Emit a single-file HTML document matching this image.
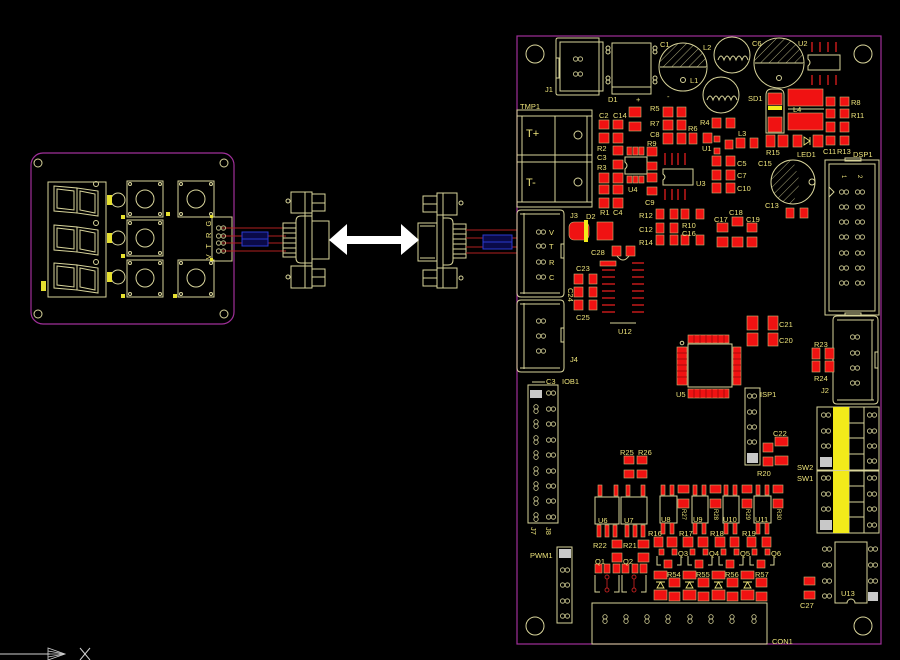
<!DOCTYPE html>
<html><head><meta charset="utf-8"><style>
html,body{margin:0;padding:0;background:#000;}
svg{display:block;}
.o{fill:none;stroke:#d8d49a;stroke-width:1;}
.r{fill:#f01212;stroke:#cdb878;stroke-width:0.6;}
.dr{stroke:#b81818;stroke-width:1.6;}
.t{font-family:"Liberation Sans",sans-serif;font-size:7.5px;fill:#ece27a;}
.p{fill:none;stroke:#d8d49a;stroke-width:0.8;}
</style></head><body>
<svg width="900" height="660" viewBox="0 0 900 660" xmlns="http://www.w3.org/2000/svg">
<defs>
<g id="pp"><circle class="p" cx="-2.4" cy="0" r="2.2"/><circle class="p" cx="2.4" cy="0" r="2.2"/></g>
<g id="pv"><circle class="p" cx="0" cy="-2.2" r="2.2"/><circle class="p" cx="0" cy="2.2" r="2.2"/></g>
<pattern id="hatch" patternUnits="userSpaceOnUse" width="6" height="6" patternTransform="rotate(45)"><line x1="0" y1="0" x2="0" y2="6" stroke="#d8d49a" stroke-width="0.8"/></pattern>
</defs>
<rect width="900" height="660" fill="#000"/>

<!-- ===== LEFT BOARD ===== -->
<rect x="31" y="153" width="203" height="171" rx="12" fill="none" stroke="#a0309a" stroke-width="1.2"/>
<circle class="o" cx="38" cy="163" r="4"/><circle class="o" cx="224" cy="163" r="4"/>
<circle class="o" cx="38" cy="314" r="4"/><circle class="o" cx="224" cy="314" r="4"/>
<rect class="o" x="48" y="182" width="58" height="115"/>
<g class="o">
<polygon points="54,186 77,188 77,213 54,211"/><polygon points="57,189 74,191 74,210 57,208"/>
<polygon points="77,188 98,191 98,216 77,213"/><polygon points="80,191 95,194 95,213 80,210"/>
<polygon points="54,225 77,227 77,252 54,250"/><polygon points="57,228 74,230 74,249 57,247"/>
<polygon points="77,227 98,230 98,255 77,252"/><polygon points="80,230 95,233 95,252 80,249"/>
<polygon points="54,263 77,265 77,290 54,288"/><polygon points="57,266 74,268 74,287 57,285"/>
<polygon points="77,265 98,268 98,293 77,290"/><polygon points="80,268 95,271 95,290 80,287"/>
<circle cx="96" cy="184" r="2.5"/><circle cx="96" cy="223" r="2.5"/><circle cx="96" cy="262" r="2.5"/>
<circle cx="118" cy="200" r="7"/><circle cx="118" cy="238" r="7"/><circle cx="118" cy="277" r="7"/>
<rect x="127" y="181" width="36" height="36"/><circle cx="145" cy="199" r="9"/>
<rect x="127" y="220" width="36" height="36"/><circle cx="145" cy="238" r="9"/>
<rect x="127" y="260" width="36" height="37"/><circle cx="145" cy="278" r="9"/>
<rect x="178" y="181" width="36" height="36"/><circle cx="196" cy="199" r="9"/>
<rect x="178" y="260" width="36" height="37"/><circle cx="196" cy="278" r="9"/>
<circle cx="130" cy="184" r="1.5"/><circle cx="160" cy="184" r="1.5"/><circle cx="130" cy="214" r="1.5"/><circle cx="160" cy="214" r="1.5"/>
<circle cx="130" cy="223" r="1.5"/><circle cx="160" cy="223" r="1.5"/><circle cx="130" cy="253" r="1.5"/><circle cx="160" cy="253" r="1.5"/>
<circle cx="130" cy="263" r="1.5"/><circle cx="160" cy="263" r="1.5"/><circle cx="130" cy="294" r="1.5"/><circle cx="160" cy="294" r="1.5"/>
<circle cx="181" cy="184" r="1.5"/><circle cx="211" cy="184" r="1.5"/><circle cx="181" cy="214" r="1.5"/><circle cx="211" cy="214" r="1.5"/>
<circle cx="181" cy="263" r="1.5"/><circle cx="211" cy="263" r="1.5"/><circle cx="181" cy="294" r="1.5"/><circle cx="211" cy="294" r="1.5"/>
<rect x="212" y="217" width="20" height="44"/>
</g>
<g fill="#e6e030">
<rect x="41" y="281" width="5" height="10"/>
<rect x="107" y="195" width="5" height="10"/><rect x="107" y="233" width="5" height="10"/><rect x="107" y="272" width="5" height="10"/>
<rect x="121" y="215" width="4" height="4"/><rect x="121" y="254" width="4" height="4"/><rect x="121" y="294" width="4" height="4"/>
<rect x="166" y="212" width="4" height="4"/><rect x="173" y="294" width="4" height="4"/>
<rect x="210" y="215" width="3" height="3"/><rect x="210" y="258" width="3" height="3"/>
</g>
<text class="t" transform="rotate(-90 209 239)" x="209" y="241" text-anchor="middle" letter-spacing="2">V T R G</text>
<g stroke="#b02020" stroke-width="1">
<line x1="222" y1="228" x2="286" y2="228"/><line x1="222" y1="236" x2="286" y2="236"/>
<line x1="222" y1="243" x2="286" y2="243"/><line x1="222" y1="251" x2="286" y2="251"/>
</g>
<use href="#pp" x="221" y="228"/><use href="#pp" x="221" y="236"/><use href="#pp" x="221" y="243"/><use href="#pp" x="221" y="251"/>
<rect x="242" y="232" width="26" height="14" fill="#0a0a48" stroke="#2a3ad0" stroke-width="1"/>
<line x1="242" y1="239" x2="268" y2="239" stroke="#2a3ad0" stroke-width="1"/>

<!-- connector 1 -->
<g class="o">
<rect x="291" y="192" width="21" height="21"/><rect x="312" y="194" width="13" height="17"/><line x1="312" y1="203" x2="325" y2="203"/>
<circle cx="288" cy="201" r="2"/>
<rect x="305" y="192" width="7" height="96"/>
<path d="M312,216 L301,216 Q296,216 296,221 L296,258 Q296,263 301,263 L312,263"/>
<rect x="283" y="223" width="13" height="34"/>
<line x1="283" y1="228" x2="296" y2="228"/><line x1="283" y1="233" x2="296" y2="233"/><line x1="283" y1="238" x2="296" y2="238"/><line x1="283" y1="243" x2="296" y2="243"/><line x1="283" y1="248" x2="296" y2="248"/><line x1="283" y1="253" x2="296" y2="253"/>
<rect x="312" y="221" width="17" height="38"/>
<rect x="291" y="266" width="21" height="22"/><rect x="312" y="269" width="13" height="17"/><line x1="312" y1="277" x2="325" y2="277"/>
<circle cx="288" cy="277" r="2"/>
</g>
<!-- connector 2 -->
<g class="o">
<rect x="437" y="193" width="20" height="22"/><rect x="423" y="196" width="14" height="16"/><line x1="423" y1="204" x2="437" y2="204"/>
<circle cx="461" cy="203" r="2"/>
<rect x="437" y="193" width="6" height="95"/>
<path d="M443,218 L448,218 Q453,218 453,223 L453,260 Q453,265 448,265 L443,265"/>
<rect x="453" y="224" width="13" height="34"/>
<line x1="453" y1="229" x2="466" y2="229"/><line x1="453" y1="234" x2="466" y2="234"/><line x1="453" y1="239" x2="466" y2="239"/><line x1="453" y1="244" x2="466" y2="244"/><line x1="453" y1="249" x2="466" y2="249"/><line x1="453" y1="254" x2="466" y2="254"/>
<rect x="418" y="223" width="19" height="38"/><line x1="420" y1="226" x2="435" y2="226"/><line x1="420" y1="258" x2="435" y2="258"/>
<rect x="437" y="268" width="20" height="20"/><rect x="423" y="270" width="14" height="16"/><line x1="423" y1="278" x2="437" y2="278"/>
<circle cx="461" cy="278" r="2"/>
</g>
<polygon fill="#fff" points="329,240 347,224 347,236 401,236 401,224 419,240 401,255 401,244 347,244 347,255"/>
<g stroke="#b02020" stroke-width="1">
<line x1="466" y1="230" x2="517" y2="230"/><line x1="466" y1="238" x2="517" y2="238"/>
<line x1="466" y1="247" x2="517" y2="247"/><line x1="466" y1="253" x2="517" y2="253"/>
</g>
<rect x="483" y="235" width="29" height="14" fill="#0a0a48" stroke="#2a3ad0" stroke-width="1"/>
<line x1="483" y1="242" x2="512" y2="242" stroke="#2a3ad0" stroke-width="1"/>

<!-- axis -->
<line x1="0" y1="654" x2="50" y2="654" stroke="#d0d0d0" stroke-width="1"/>
<g stroke="#d0d0d0" stroke-width="0.8" fill="none"><path d="M48,648 L65,654 L48,660 Z"/><line x1="48" y1="654" x2="65" y2="654"/><line x1="48" y1="651" x2="65" y2="654"/><line x1="48" y1="657" x2="65" y2="654"/></g>
<g stroke="#d0d0d0" stroke-width="1"><line x1="80" y1="648" x2="90" y2="660"/><line x1="90" y1="648" x2="80" y2="660"/></g>

<!-- ===== MAIN BOARD ===== -->
<rect x="517" y="36" width="364" height="608" fill="none" stroke="#a0309a" stroke-width="1.2"/>
<g class="o">
<circle cx="535" cy="54" r="9"/><circle cx="863" cy="54" r="9"/><circle cx="535" cy="626" r="9"/><circle cx="863" cy="626" r="9"/>
<!-- J1 -->
<path d="M556,40 Q556,38 558,38 L599,38 L599,42 L603,42 L603,91 L599,91 L599,95 L558,95 Q556,95 556,93 Z"/>
<rect x="560" y="42" width="39" height="49"/><rect x="556" y="58" width="3" height="20"/>
<!-- D1 -->
<rect x="612" y="43" width="39" height="51"/><line x1="612" y1="87" x2="651" y2="87"/>
<circle cx="608" cy="48" r="2"/><circle cx="608" cy="52" r="2"/><circle cx="608" cy="78" r="2"/><circle cx="608" cy="82" r="2"/>
<circle cx="655" cy="48" r="2"/><circle cx="655" cy="52" r="2"/><circle cx="655" cy="78" r="2"/><circle cx="655" cy="82" r="2"/>
<!-- C1 C6 -->
<circle cx="683" cy="67" r="24"/><circle cx="683" cy="80" r="2.5"/>
<circle cx="779" cy="63" r="25"/><circle cx="779" cy="78" r="2.5"/>
<!-- L1 L2 -->
<circle cx="732" cy="55" r="18"/><circle cx="721" cy="95" r="18"/>
<path d="M718,60 q3,-8 6,0 q3,-8 6,0 q3,-8 6,0 q3,-8 6,0 q3,-8 6,0"/>
<path d="M707,100 q3,-8 6,0 q3,-8 6,0 q3,-8 6,0 q3,-8 6,0 q3,-8 6,0"/>
<!-- U2 -->
<path d="M808,55 L840,55 L840,70 L808,70 L808,66 Q812,62.5 808,59 Z"/>
<!-- SD1 outline -->
<path d="M766,133 L766,95 Q766,89 772,89 L778,89 Q784,89 784,95 L784,133 Z"/>
<line x1="788" y1="109" x2="824" y2="109"/>
<!-- C13 -->
<circle cx="793" cy="182" r="22"/><circle cx="812" cy="182" r="3"/>
<!-- TMP1 -->
<rect x="517" y="110" width="75" height="97"/>
<rect x="517" y="110" width="75" height="6"/><rect x="517" y="155" width="75" height="7"/><rect x="517" y="202" width="75" height="5"/>
<line x1="522" y1="116" x2="522" y2="202"/><line x1="587" y1="116" x2="587" y2="202"/><line x1="555" y1="116" x2="555" y2="202"/>
<circle cx="578" cy="135" r="4"/><circle cx="578" cy="182" r="4"/>
<!-- DSP1 -->
<rect x="825" y="160" width="54" height="155"/><rect x="829" y="164" width="46" height="147"/>
<rect x="845" y="158" width="16" height="3"/><rect x="845" y="313" width="16" height="3"/>
<path d="M829,187 L834,192 L829,197"/>
<!-- J3 J4 J2 -->
<path d="M521,210 L560,210 Q564,210 564,214 L564,293 Q564,297 560,297 L521,297 Q517,297 517,293 L517,214 Q517,210 521,210 Z"/>
<line x1="524" y1="213" x2="524" y2="294"/><line x1="520" y1="214" x2="560" y2="214"/><line x1="520" y1="293" x2="560" y2="293"/>
<rect x="561" y="244" width="3" height="14"/>
<path d="M521,300 L560,300 Q564,300 564,304 L564,368 Q564,372 560,372 L521,372 Q517,372 517,368 L517,304 Q517,300 521,300 Z"/>
<line x1="524" y1="303" x2="524" y2="369"/><line x1="520" y1="304" x2="560" y2="304"/><line x1="520" y1="368" x2="560" y2="368"/>
<rect x="561" y="328" width="3" height="14"/>
<path d="M837,316 L874,316 Q878,316 878,320 L878,400 Q878,404 874,404 L837,404 Q833,404 833,400 L833,320 Q833,316 837,316 Z"/>
<line x1="837" y1="320" x2="874" y2="320"/><line x1="837" y1="400" x2="874" y2="400"/><line x1="872" y1="320" x2="872" y2="400"/>
<rect x="875" y="352" width="3" height="16"/>
<!-- U4 U3 -->
<path d="M625,157 L647,157 L647,174 L625,174 L625,169 Q629,165.5 625,162 Z"/>
<path d="M663,169 L693,169 L693,185 L663,185 L663,180 Q667,177 663,174 Z"/>
<!-- U12 body -->
<line x1="610" y1="323" x2="636" y2="323"/>
<path d="M617,256 Q623,264 629,256"/>
<!-- U5 body -->
<rect x="688" y="344" width="44" height="43"/><circle cx="682" cy="343" r="1.8"/>
<!-- headers -->
<rect x="528" y="385" width="30" height="138"/><line x1="532" y1="382" x2="545" y2="382"/>
<rect x="745" y="388" width="15" height="77"/>
<rect x="557" y="547" width="15" height="76"/>
<!-- SW -->
<rect x="817" y="407" width="62" height="63"/><rect x="817" y="471" width="62" height="62"/>
<line x1="849" y1="407" x2="849" y2="533"/><line x1="864" y1="407" x2="864" y2="533"/>
<line x1="849" y1="423" x2="864" y2="423"/><line x1="849" y1="438" x2="864" y2="438"/><line x1="849" y1="454" x2="864" y2="454"/>
<line x1="849" y1="486" x2="864" y2="486"/><line x1="849" y1="502" x2="864" y2="502"/><line x1="849" y1="517" x2="864" y2="517"/>
<!-- U13 -->
<path d="M835,542 L867,542 L867,603 L855,603 A4,4 0 0 0 847,603 L835,603 Z"/>
<!-- CON1 -->
<rect x="592" y="603" width="175" height="41"/>
<!-- U6..U11 bodies -->
<rect x="595" y="497" width="24" height="27"/><rect x="621" y="497" width="26" height="27"/>
<rect x="660" y="496" width="17" height="27"/><rect x="692" y="496" width="16" height="27"/><rect x="723" y="496" width="16" height="27"/><rect x="754" y="496" width="17" height="27"/>
<!-- Q1 Q2 brackets -->
<path d="M595,575 L595,592 L600,592 M614,592 L619,592 L619,575"/>
<path d="M622,575 L622,592 L627,592 M641,592 L646,592 L646,575"/>
<!-- Q3..Q6 brackets -->
<path d="M657,556 L657,565 L661,565 M677,565 L681,565 L681,556"/>
<path d="M688,556 L688,565 L692,565 M708,565 L712,565 L712,556"/>
<path d="M719,556 L719,565 L723,565 M739,565 L743,565 L743,556"/>
<path d="M750,556 L750,565 L754,565 M770,565 L774,565 L774,556"/>
</g>
<!-- hatching -->
<path d="M659,67 A24,24 0 0 1 707,67 Z" fill="url(#hatch)"/>
<path d="M754,63 A25,25 0 0 1 804,63 Z" fill="url(#hatch)"/>
<path d="M793,160 A22,22 0 0 0 793,204 L800,182 Z" fill="url(#hatch)"/>
<line x1="755" y1="63" x2="803" y2="63" stroke="#d8d49a" stroke-width="1"/>
<line x1="660" y1="67" x2="706" y2="67" stroke="#d8d49a" stroke-width="1"/>

<!-- dark red pin lines -->
<g class="dr">
<line x1="812" y1="42" x2="812" y2="52"/><line x1="820" y1="42" x2="820" y2="52"/><line x1="828" y1="42" x2="828" y2="52"/><line x1="836" y1="42" x2="836" y2="52"/>
<line x1="812" y1="75" x2="812" y2="85"/><line x1="820" y1="75" x2="820" y2="85"/><line x1="828" y1="75" x2="828" y2="85"/><line x1="836" y1="75" x2="836" y2="85"/>
<line x1="665" y1="153" x2="665" y2="165"/><line x1="672" y1="153" x2="672" y2="165"/><line x1="678" y1="153" x2="678" y2="165"/><line x1="685" y1="153" x2="685" y2="165"/>
<line x1="665" y1="189" x2="665" y2="200"/><line x1="672" y1="189" x2="672" y2="200"/><line x1="678" y1="189" x2="678" y2="200"/><line x1="685" y1="189" x2="685" y2="200"/>
<line x1="602" y1="270" x2="615" y2="270"/><line x1="602" y1="277" x2="615" y2="277"/><line x1="602" y1="284" x2="615" y2="284"/><line x1="602" y1="291" x2="615" y2="291"/><line x1="602" y1="298" x2="615" y2="298"/><line x1="602" y1="305" x2="615" y2="305"/><line x1="602" y1="312" x2="615" y2="312"/>
<line x1="632" y1="263" x2="644" y2="263"/><line x1="632" y1="270" x2="644" y2="270"/><line x1="632" y1="277" x2="644" y2="277"/><line x1="632" y1="284" x2="644" y2="284"/><line x1="632" y1="291" x2="644" y2="291"/><line x1="632" y1="298" x2="644" y2="298"/><line x1="632" y1="305" x2="644" y2="305"/><line x1="632" y1="312" x2="644" y2="312"/>
</g>

<!-- red pads -->
<g class="r">
<rect x="768" y="93" width="14" height="12"/><rect x="768" y="117" width="14" height="15"/>
<rect x="788" y="89" width="35" height="17"/><rect x="788" y="113" width="35" height="17"/>
<rect x="826" y="97" width="9" height="9"/><rect x="840" y="97" width="9" height="9"/>
<rect x="826" y="109" width="9" height="9"/><rect x="840" y="109" width="9" height="9"/>
<rect x="826" y="122" width="9" height="10"/><rect x="840" y="122" width="9" height="10"/>
<rect x="826" y="136" width="9" height="9"/><rect x="840" y="136" width="9" height="9"/>
<rect x="766" y="135" width="9" height="12"/><rect x="778" y="135" width="10" height="12"/>
<rect x="793" y="135" width="9" height="12"/><rect x="813" y="135" width="10" height="12"/>
<rect x="786" y="208" width="8" height="10"/><rect x="800" y="208" width="8" height="10"/>

<rect x="599" y="120" width="10" height="9"/><rect x="613" y="120" width="10" height="9"/>
<rect x="599" y="133" width="10" height="10"/><rect x="613" y="133" width="10" height="10"/>
<rect x="613" y="146" width="10" height="9"/><rect x="613" y="160" width="10" height="9"/>
<rect x="599" y="173" width="10" height="10"/><rect x="613" y="173" width="10" height="10"/>
<rect x="599" y="185" width="10" height="9"/><rect x="613" y="185" width="10" height="9"/>
<rect x="599" y="198" width="10" height="10"/><rect x="613" y="198" width="10" height="10"/>
<rect x="629" y="107" width="12" height="10"/><rect x="629" y="122" width="12" height="9"/>
<rect x="663" y="107" width="10" height="10"/><rect x="677" y="107" width="9" height="10"/>
<rect x="663" y="120" width="10" height="10"/><rect x="677" y="120" width="9" height="10"/>
<rect x="663" y="133" width="10" height="11"/><rect x="677" y="133" width="9" height="11"/><rect x="689" y="133" width="8" height="11"/>
<rect x="712" y="118" width="9" height="10"/><rect x="726" y="118" width="9" height="10"/>
<rect x="703" y="133" width="9" height="10"/><rect x="714" y="136" width="6" height="6"/><rect x="725" y="140" width="8" height="9"/><rect x="714" y="148" width="6" height="6"/>
<rect x="736" y="138" width="9" height="10"/><rect x="750" y="138" width="8" height="10"/>
<rect x="712" y="156" width="9" height="10"/><rect x="726" y="156" width="9" height="10"/>
<rect x="712" y="170" width="9" height="10"/><rect x="726" y="170" width="9" height="10"/>
<rect x="712" y="183" width="9" height="10"/><rect x="726" y="183" width="9" height="10"/>
<rect x="627" y="147" width="5" height="8"/><rect x="633" y="147" width="5" height="8"/><rect x="639" y="147" width="5" height="8"/>
<rect x="627" y="176" width="5" height="7"/><rect x="633" y="176" width="5" height="7"/><rect x="639" y="176" width="5" height="7"/>
<rect x="647" y="147" width="10" height="9"/><rect x="647" y="162" width="10" height="8"/><rect x="647" y="173" width="10" height="9"/><rect x="647" y="187" width="10" height="8"/>

<rect x="569" y="222" width="20" height="18" rx="5"/><rect x="597" y="222" width="16" height="18"/>
<rect x="612" y="246" width="9" height="10"/><rect x="626" y="246" width="9" height="10"/>
<rect x="600" y="261" width="16" height="5"/>
<rect x="574" y="274" width="9" height="10"/><rect x="589" y="274" width="8" height="10"/>
<rect x="574" y="287" width="9" height="10"/><rect x="589" y="287" width="8" height="10"/>
<rect x="574" y="300" width="9" height="10"/><rect x="589" y="300" width="8" height="10"/>
<rect x="656" y="209" width="8" height="10"/><rect x="670" y="209" width="8" height="10"/><rect x="681" y="209" width="8" height="10"/><rect x="696" y="209" width="8" height="10"/>
<rect x="656" y="223" width="8" height="10"/><rect x="670" y="223" width="8" height="10"/>
<rect x="656" y="235" width="8" height="10"/><rect x="670" y="235" width="8" height="10"/><rect x="681" y="235" width="8" height="10"/><rect x="696" y="235" width="8" height="10"/>
<rect x="717" y="223" width="11" height="9"/><rect x="732" y="217" width="11" height="9"/><rect x="747" y="223" width="10" height="9"/>
<rect x="717" y="237" width="11" height="10"/><rect x="732" y="237" width="11" height="10"/><rect x="747" y="237" width="10" height="10"/>
<rect x="747" y="316" width="11" height="14"/><rect x="768" y="316" width="10" height="14"/>
<rect x="747" y="333" width="11" height="13"/><rect x="768" y="333" width="10" height="13"/>
<rect x="688" y="335" width="41" height="8"/><rect x="688" y="389" width="41" height="9"/>
<rect x="677" y="347" width="10" height="38"/><rect x="733" y="347" width="8" height="38"/>
<rect x="812" y="348" width="8" height="11"/><rect x="825" y="348" width="9" height="11"/>
<rect x="812" y="361" width="8" height="11"/><rect x="825" y="361" width="9" height="11"/>

<rect x="763" y="443" width="10" height="9"/><rect x="775" y="437" width="13" height="9"/>
<rect x="763" y="457" width="10" height="9"/><rect x="775" y="456" width="13" height="9"/>
<rect x="624" y="456" width="10" height="8"/><rect x="637" y="456" width="10" height="8"/>
<rect x="624" y="470" width="10" height="8"/><rect x="637" y="470" width="10" height="8"/>
<rect x="598" y="485" width="4" height="11"/><rect x="614" y="485" width="4" height="11"/><rect x="626" y="485" width="4" height="11"/><rect x="641" y="485" width="4" height="11"/>
<rect x="597" y="525" width="4" height="12"/><rect x="605" y="525" width="4" height="12"/><rect x="613" y="525" width="4" height="12"/>
<rect x="625" y="525" width="4" height="12"/><rect x="633" y="525" width="4" height="12"/><rect x="641" y="525" width="4" height="12"/>
<rect x="661" y="485" width="4" height="10"/><rect x="670" y="485" width="4" height="10"/>
<rect x="693" y="485" width="4" height="10"/><rect x="702" y="485" width="4" height="10"/>
<rect x="724" y="485" width="4" height="10"/><rect x="733" y="485" width="4" height="10"/>
<rect x="756" y="485" width="4" height="10"/><rect x="765" y="485" width="4" height="10"/>
<rect x="661" y="523" width="4" height="11"/><rect x="670" y="523" width="4" height="11"/>
<rect x="693" y="523" width="4" height="11"/><rect x="702" y="523" width="4" height="11"/>
<rect x="724" y="523" width="4" height="11"/><rect x="733" y="523" width="4" height="11"/>
<rect x="756" y="523" width="4" height="11"/><rect x="765" y="523" width="4" height="11"/>
<rect x="678" y="485" width="11" height="8"/><rect x="678" y="499" width="11" height="9"/>
<rect x="710" y="485" width="11" height="8"/><rect x="710" y="499" width="11" height="9"/>
<rect x="742" y="485" width="10" height="8"/><rect x="742" y="499" width="10" height="9"/>
<rect x="773" y="485" width="10" height="8"/><rect x="773" y="499" width="10" height="9"/>
<rect x="654" y="537" width="9" height="10"/><rect x="667" y="537" width="10" height="10"/>
<rect x="683" y="537" width="10" height="10"/><rect x="698" y="537" width="10" height="10"/>
<rect x="715" y="537" width="10" height="10"/><rect x="730" y="537" width="9" height="10"/>
<rect x="747" y="537" width="9" height="10"/><rect x="762" y="537" width="9" height="10"/>
<rect x="659" y="549" width="5" height="6"/><rect x="672" y="549" width="5" height="6"/><rect x="664" y="560" width="8" height="8"/>
<rect x="690" y="549" width="5" height="6"/><rect x="703" y="549" width="5" height="6"/><rect x="695" y="560" width="8" height="8"/>
<rect x="721" y="549" width="5" height="6"/><rect x="734" y="549" width="5" height="6"/><rect x="726" y="560" width="8" height="8"/>
<rect x="752" y="549" width="5" height="6"/><rect x="765" y="549" width="5" height="6"/><rect x="757" y="560" width="8" height="8"/>
<rect x="612" y="540" width="10" height="8"/><rect x="612" y="553" width="10" height="9"/>
<rect x="638" y="540" width="11" height="8"/><rect x="638" y="553" width="11" height="9"/>
<rect x="595" y="564" width="7" height="9"/><rect x="604" y="564" width="6" height="9"/><rect x="613" y="564" width="7" height="9"/>
<rect x="622" y="564" width="7" height="9"/><rect x="632" y="564" width="6" height="9"/><rect x="640" y="564" width="7" height="9"/>
<rect x="654" y="571" width="13" height="8"/><rect x="654" y="590" width="13" height="10"/><rect x="669" y="578" width="11" height="9"/><rect x="669" y="592" width="11" height="9"/>
<rect x="683" y="571" width="13" height="8"/><rect x="683" y="590" width="13" height="10"/><rect x="698" y="578" width="11" height="9"/><rect x="698" y="592" width="11" height="9"/>
<rect x="712" y="571" width="13" height="8"/><rect x="712" y="590" width="13" height="10"/><rect x="727" y="578" width="11" height="9"/><rect x="727" y="592" width="11" height="9"/>
<rect x="741" y="571" width="13" height="8"/><rect x="741" y="590" width="13" height="10"/><rect x="756" y="578" width="11" height="9"/><rect x="756" y="592" width="11" height="9"/>
<rect x="804" y="577" width="11" height="8"/><rect x="804" y="591" width="11" height="8"/>
</g>
<!-- QFP hatch -->
<g stroke="#7a0808" stroke-width="0.6">
<line x1="694" y1="335" x2="694" y2="343"/><line x1="700" y1="335" x2="700" y2="343"/><line x1="706" y1="335" x2="706" y2="343"/><line x1="712" y1="335" x2="712" y2="343"/><line x1="718" y1="335" x2="718" y2="343"/><line x1="724" y1="335" x2="724" y2="343"/>
<line x1="694" y1="389" x2="694" y2="398"/><line x1="700" y1="389" x2="700" y2="398"/><line x1="706" y1="389" x2="706" y2="398"/><line x1="712" y1="389" x2="712" y2="398"/><line x1="718" y1="389" x2="718" y2="398"/><line x1="724" y1="389" x2="724" y2="398"/>
<line x1="677" y1="353" x2="687" y2="353"/><line x1="677" y1="359" x2="687" y2="359"/><line x1="677" y1="365" x2="687" y2="365"/><line x1="677" y1="371" x2="687" y2="371"/><line x1="677" y1="377" x2="687" y2="377"/>
<line x1="733" y1="353" x2="741" y2="353"/><line x1="733" y1="359" x2="741" y2="359"/><line x1="733" y1="365" x2="741" y2="365"/><line x1="733" y1="371" x2="741" y2="371"/><line x1="733" y1="377" x2="741" y2="377"/>
<line x1="632" y1="147" x2="632" y2="155"/>
</g>
<!-- yellow -->
<g fill="#f2ea1a">
<rect x="768" y="106" width="14" height="4"/>
<rect x="584" y="220" width="4" height="22"/>
<rect x="833" y="407" width="16" height="63"/><rect x="833" y="471" width="16" height="62"/>
</g>
<!-- gray squares -->
<g fill="#c8c8c8">
<rect x="530" y="390" width="12" height="8"/><rect x="747" y="453" width="11" height="10"/>
<rect x="559" y="549" width="12" height="9"/><rect x="820" y="457" width="12" height="10"/><rect x="820" y="520" width="12" height="10"/>
<rect x="868" y="592" width="10" height="9"/>
</g>
<!-- diode symbols -->
<g stroke="#ece27a" stroke-width="0.9" fill="none">
<path d="M657,588 L664,588 L660.5,582 Z M656,582 L665,582"/>
<path d="M686,588 L693,588 L689.5,582 Z M685,582 L694,582"/>
<path d="M715,588 L722,588 L718.5,582 Z M714,582 L723,582"/>
<path d="M744,588 L751,588 L747.5,582 Z M743,582 L752,582"/>
<path d="M804,137 L804,145 L810,141 Z M810,137 L810,145"/>
</g>

<!-- pad pairs -->
<use href="#pp" x="578" y="59"/><use href="#pp" x="578" y="74"/>
<use href="#pp" x="541" y="232"/><use href="#pp" x="541" y="246"/><use href="#pp" x="541" y="262"/><use href="#pp" x="541" y="277"/>
<use href="#pp" x="541" y="321"/><use href="#pp" x="541" y="336"/><use href="#pp" x="541" y="351"/>
<use href="#pp" x="855" y="337"/><use href="#pp" x="855" y="353"/><use href="#pp" x="855" y="368"/><use href="#pp" x="855" y="383"/>
<use href="#pp" x="844" y="192"/><use href="#pp" x="860" y="192"/><use href="#pp" x="844" y="207"/><use href="#pp" x="860" y="207"/>
<use href="#pp" x="844" y="222"/><use href="#pp" x="860" y="222"/><use href="#pp" x="844" y="237"/><use href="#pp" x="860" y="237"/>
<use href="#pp" x="844" y="253"/><use href="#pp" x="860" y="253"/><use href="#pp" x="844" y="268"/><use href="#pp" x="860" y="268"/>
<use href="#pp" x="844" y="283"/><use href="#pp" x="860" y="283"/>
<use href="#pp" x="551" y="393"/>
<use href="#pv" x="536" y="409"/><use href="#pp" x="551" y="409"/><use href="#pv" x="536" y="424"/><use href="#pp" x="551" y="424"/>
<use href="#pv" x="536" y="440"/><use href="#pp" x="551" y="440"/><use href="#pv" x="536" y="455"/><use href="#pp" x="551" y="455"/>
<use href="#pv" x="536" y="471"/><use href="#pp" x="551" y="471"/><use href="#pv" x="536" y="486"/><use href="#pp" x="551" y="486"/>
<use href="#pv" x="536" y="501"/><use href="#pp" x="551" y="501"/><use href="#pv" x="536" y="517"/><use href="#pp" x="551" y="517"/>
<use href="#pp" x="752" y="396"/><use href="#pp" x="752" y="412"/><use href="#pp" x="752" y="427"/><use href="#pp" x="752" y="442"/>
<use href="#pp" x="565" y="570"/><use href="#pp" x="565" y="585"/><use href="#pp" x="565" y="601"/><use href="#pp" x="565" y="616"/>
<use href="#pp" x="826" y="415"/><use href="#pp" x="826" y="431"/><use href="#pp" x="826" y="446"/>
<use href="#pp" x="872" y="415"/><use href="#pp" x="872" y="431"/><use href="#pp" x="872" y="446"/><use href="#pp" x="872" y="461"/>
<use href="#pp" x="826" y="478"/><use href="#pp" x="826" y="494"/><use href="#pp" x="826" y="509"/>
<use href="#pp" x="872" y="478"/><use href="#pp" x="872" y="494"/><use href="#pp" x="872" y="509"/><use href="#pp" x="872" y="525"/>
<use href="#pp" x="827" y="549"/><use href="#pp" x="827" y="565"/><use href="#pp" x="827" y="581"/><use href="#pp" x="827" y="596"/>
<use href="#pp" x="873" y="549"/><use href="#pp" x="873" y="565"/><use href="#pp" x="873" y="581"/>
<use href="#pv" x="605" y="619"/><use href="#pv" x="626" y="619"/><use href="#pv" x="647" y="619"/><use href="#pv" x="668" y="619"/>
<use href="#pv" x="690" y="619"/><use href="#pv" x="711" y="619"/><use href="#pv" x="732" y="619"/><use href="#pv" x="754" y="619"/>
<g stroke="#c02020" stroke-width="0.9" fill="none">
<circle cx="607" cy="577" r="2"/><circle cx="607" cy="590" r="2"/><line x1="607" y1="579" x2="607" y2="588"/>
<circle cx="634" cy="577" r="2"/><circle cx="634" cy="590" r="2"/><line x1="634" y1="579" x2="634" y2="588"/>
</g>

<!-- labels -->
<g class="t">
<text x="520" y="109">TMP1</text>
<text x="526" y="137" font-size="11">T+</text><text x="526" y="186" font-size="11">T-</text>
<text x="545" y="92">J1</text><text x="608" y="102">D1</text><text x="636" y="102">+</text><text x="667" y="99">-</text>
<text x="660" y="47">C1</text><text x="703" y="50">L2</text><text x="690" y="83">L1</text><text x="752" y="46">C6</text><text x="798" y="46">U2</text>
<text x="748" y="101">SD1</text><text x="793" y="112">L4</text><text x="851" y="105">R8</text><text x="851" y="118">R11</text>
<text x="766" y="155">R15</text><text x="797" y="157">LED1</text><text x="823" y="154">C11</text><text x="837" y="154">R13</text>
<text x="758" y="166">C15</text><text x="765" y="208">C13</text><text x="853" y="157">DSP1</text>
<text x="599" y="118">C2</text><text x="613" y="118">C14</text><text x="597" y="151">R2</text><text x="597" y="160">C3</text><text x="597" y="170">R3</text>
<text x="600" y="215">R1</text><text x="613" y="215">C4</text>
<text x="650" y="111">R5</text><text x="650" y="126">R7</text><text x="650" y="137">C8</text><text x="688" y="131">R6</text><text x="700" y="125">R4</text>
<text x="702" y="151">U1</text><text x="738" y="136">L3</text><text x="737" y="166">C5</text><text x="737" y="178">C7</text><text x="737" y="191">C10</text>
<text x="647" y="146">R9</text><text x="628" y="192">U4</text><text x="645" y="205">C9</text><text x="696" y="186">U3</text>
<text x="570" y="218">J3</text><text x="586" y="219">D2</text><text x="591" y="255">C28</text><text x="618" y="334">U12</text>
<text x="576" y="271">C23</text><text x="576" y="320">C25</text>
<text x="639" y="218">R12</text><text x="639" y="232">C12</text><text x="639" y="245">R14</text><text x="682" y="228">R10</text><text x="682" y="236">C16</text>
<text x="714" y="222">C17</text><text x="729" y="215">C18</text><text x="746" y="222">C19</text>
<text x="779" y="327">C21</text><text x="779" y="343">C20</text><text x="676" y="397">U5</text>
<text x="814" y="347">R23</text><text x="814" y="381">R24</text><text x="821" y="393">J2</text><text x="570" y="362">J4</text>
<text x="562" y="384">IOB1</text><text x="546" y="384">C3</text><text x="760" y="397">ISP1</text>
<text x="773" y="436">C22</text><text x="757" y="476">R20</text><text x="797" y="470">SW2</text><text x="797" y="481">SW1</text>
<text x="841" y="596">U13</text><text x="800" y="608">C27</text><text x="772" y="644">CON1</text><text x="530" y="558">PWM1</text>
<text x="620" y="455">R25</text><text x="638" y="455">R26</text>
<text x="598" y="523">U6</text><text x="624" y="523">U7</text><text x="661" y="522">U8</text><text x="693" y="522">U9</text><text x="723" y="522">U10</text><text x="755" y="522">U11</text>
<text x="648" y="536">R16</text><text x="679" y="536">R17</text><text x="710" y="536">R18</text><text x="742" y="536">R19</text>
<text x="593" y="548">R22</text><text x="623" y="548">R21</text><text x="595" y="564">Q1</text><text x="623" y="564">Q2</text>
<text x="678" y="556">Q3</text><text x="709" y="556">Q4</text><text x="740" y="556">Q5</text><text x="771" y="556">Q6</text>
<text x="667" y="577">R54</text><text x="696" y="577">R55</text><text x="725" y="577">R56</text><text x="755" y="577">R57</text>
<text x="549" y="235">V</text><text x="549" y="249">T</text><text x="549" y="265">R</text><text x="549" y="280">C</text>
<text transform="rotate(90 568 288)" x="568" y="288">C24</text>
<text transform="rotate(90 531 527)" x="531" y="527">J7</text><text transform="rotate(90 546 527)" x="546" y="527">J8</text>
<text transform="rotate(90 682 509)" x="682" y="509" font-size="6">R27</text><text transform="rotate(90 714 509)" x="714" y="509" font-size="6">R28</text>
<text transform="rotate(90 746 509)" x="746" y="509" font-size="6">R29</text><text transform="rotate(90 777 509)" x="777" y="509" font-size="6">R30</text>
<text transform="rotate(90 842 175)" x="842" y="175" font-size="6">1</text><text transform="rotate(90 858 175)" x="858" y="175" font-size="6">2</text>
</g>
</svg>
</body></html>
